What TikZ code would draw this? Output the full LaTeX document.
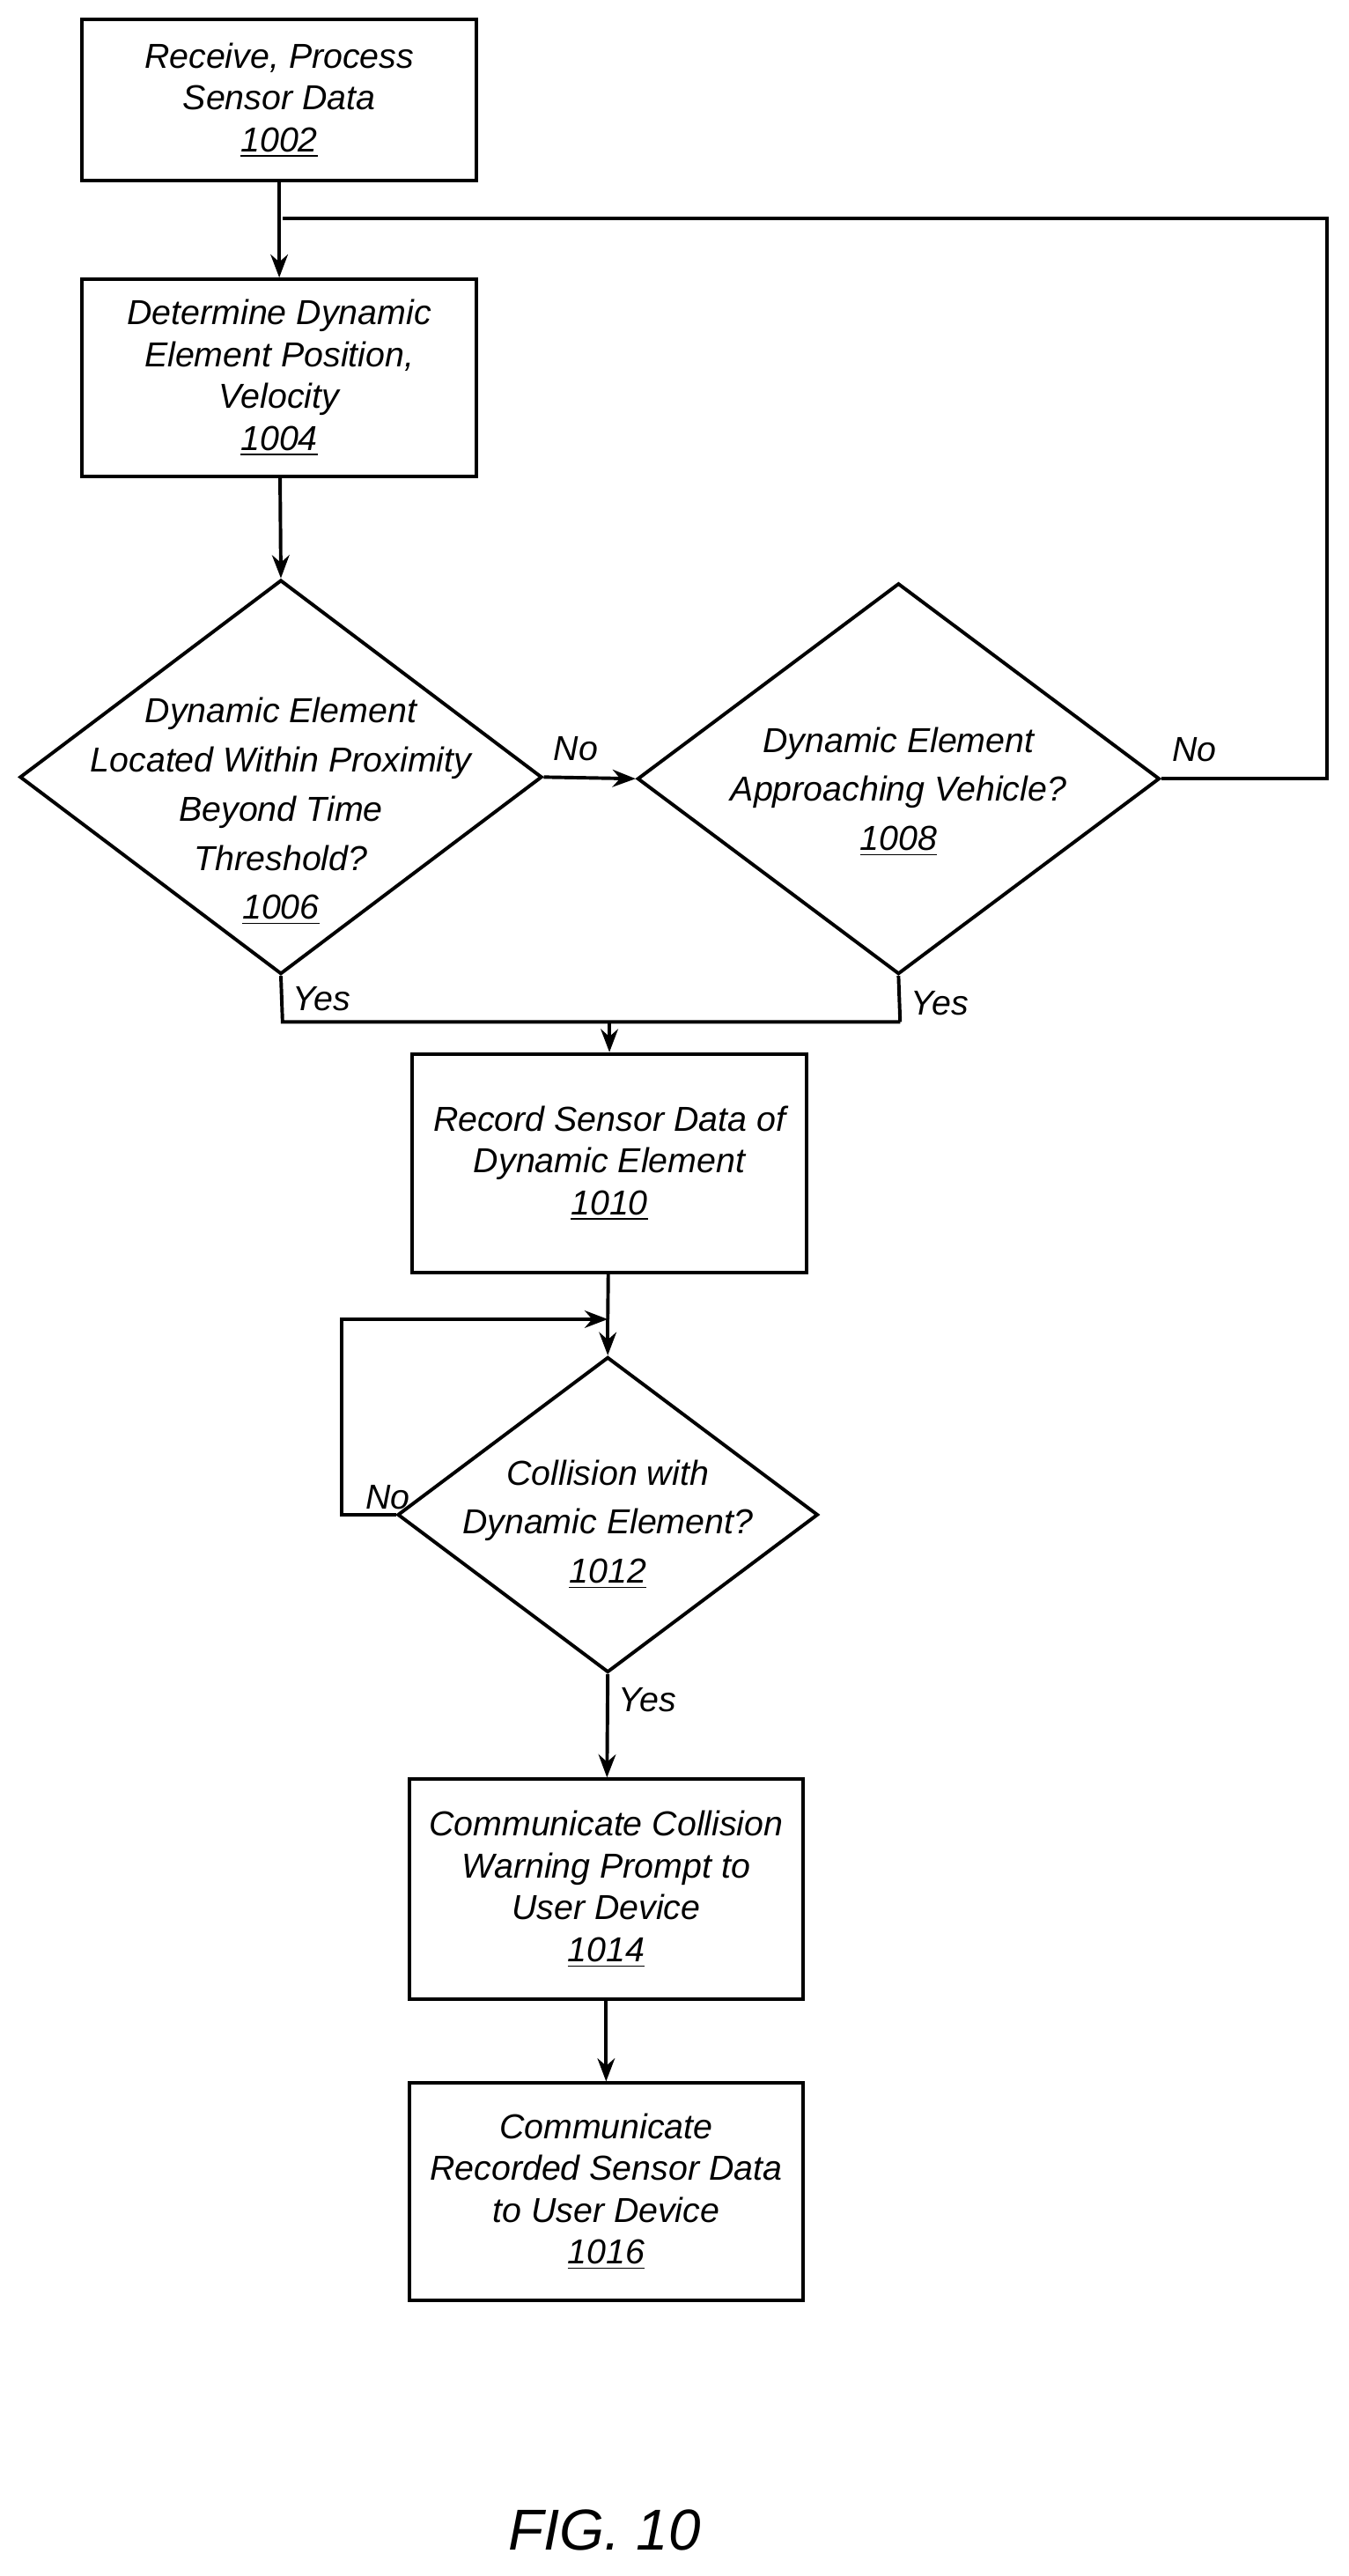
\documentclass[tikz,border=0pt]{standalone}
\usepackage{fontspec}
\setmainfont{Liberation Sans}
\usetikzlibrary{arrows.meta,shapes.geometric,positioning}
\tikzset{
  box/.style={rectangle, draw, line width=1.2pt, minimum width=4.8cm, align=center, font=\fontsize{12}{14.5}\selectfont\itshape},
  dia/.style={diamond, draw, line width=1.2pt, inner sep=0pt},
  dtext/.style={align=center, font=\fontsize{12}{17}\selectfont\itshape},
  lbl/.style={font=\fontsize{12}{14}\selectfont\itshape},
  line/.style={line width=1.2pt},
  arr/.style={line width=1.2pt, -{Stealth[length=8pt,width=6pt]}}
}
\begin{document}
\begin{tikzpicture}[x=0.02cm, y=-0.02cm]
  \useasboundingbox (0,0) rectangle (821,1568);
  \node[box, minimum height=1.96cm] (1002) at (170,61) {Receive, Process\\Sensor Data\\\underline{1002}};
  \node[box, minimum height=2.4cm] (1004) at (170,230) {Determine Dynamic\\Element Position,\\Velocity\\\underline{1004}};
  \node[dia, minimum width=6.36cm, minimum height=4.8cm] (1006) at (171,473) {};
  \node[dtext] (t1006) at (171,494) {Dynamic Element\\Located Within Proximity\\Beyond Time\\Threshold?\\\underline{1006}};
  \node[dia, minimum width=6.36cm, minimum height=4.76cm] (1008) at (547,474) {};
  \node[dtext] (t1008) at (547,482) {Dynamic Element\\Approaching Vehicle?\\\underline{1008}};
  \node[box, minimum height=2.66cm] (1010) at (371,708) {Record Sensor Data of\\Dynamic Element\\\underline{1010}};
  \node[dia, minimum width=5.12cm, minimum height=3.84cm] (1012) at (370,922) {};
  \node[dtext] (t1012) at (370,928) {Collision with\\Dynamic Element?\\\underline{1012}};
  \node[box, minimum height=2.68cm] (1014) at (369,1150) {Communicate Collision\\Warning Prompt to\\User Device\\\underline{1014}};
  \node[box, minimum height=2.64cm] (1016) at (369,1334) {Communicate\\Recorded Sensor Data\\to User Device\\\underline{1016}};
  \node[font=\fontsize{20}{24}\selectfont\itshape] (fig) at (368,1540) {FIG. 10};

  \coordinate (join) at (371,622);
  \coordinate (top) at (172,133);
  \coordinate (loop) at (370,803);

  \draw[arr] (1002) -- (1004);
  \draw[arr] (1004) -- (1006.north);
  \draw[arr] (1006.east) -- node[lbl, above, pos=0.35, yshift=2pt] {No} (1008.west);
  \draw[line] (1008.east) -- node[lbl, above, pos=0.2, yshift=2pt] {No} (808,474) |- (top);
  \draw[line] (1006.south) -- node[lbl, right, pos=0.5] {Yes} (172,622) -- (548,622);
  \draw[line] (1008.south) -- node[lbl, right, pos=0.6] {Yes} (548,622);
  \draw[arr] (join) -- (1010);
  \draw[line] (1010) -- (loop);
  \draw[arr] (loop) -- (1012.north);
  \draw[arr] (1012.west) -- node[lbl, above, pos=0.15, yshift=-2pt] {No} (208,922) |- (loop);
  \draw[arr] (1012.south) -- node[lbl, right, pos=0.25] {Yes} (1014);
  \draw[arr] (1014) -- (1016);
\end{tikzpicture}
\end{document}
